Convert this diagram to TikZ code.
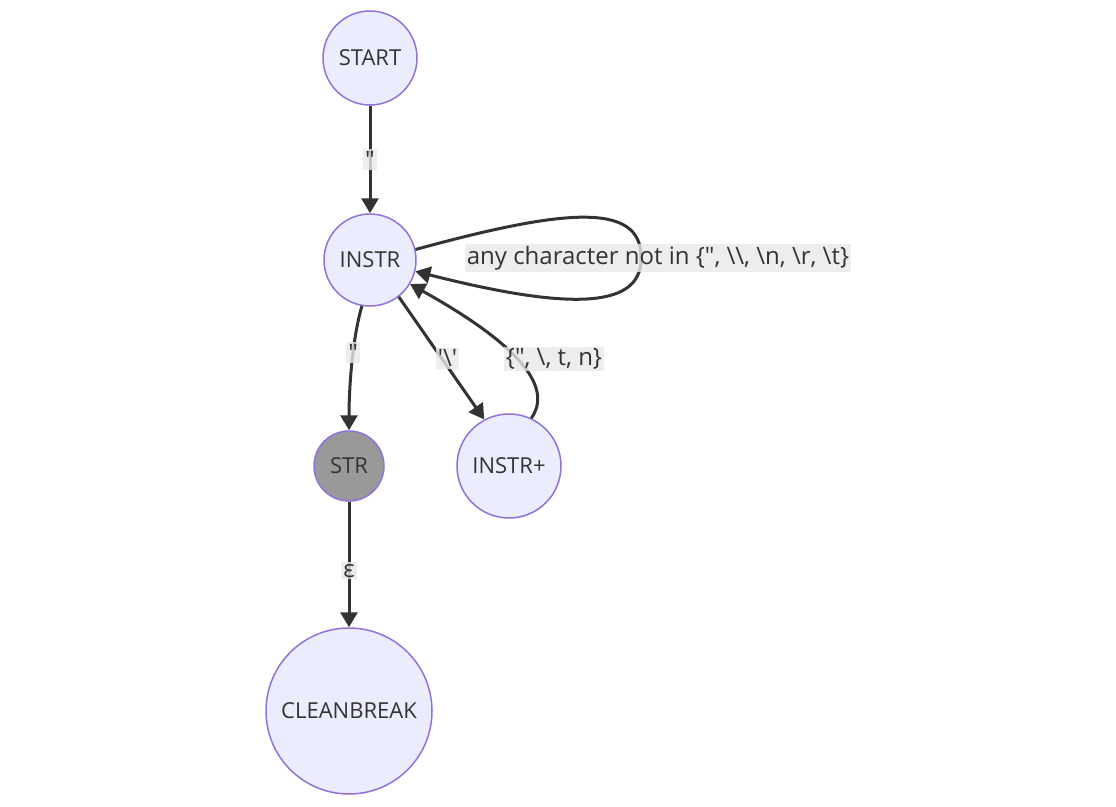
\documentclass[tikz,border=0pt]{standalone}
\usepackage{fontspec}
\setmainfont{Open Sans}
\usetikzlibrary{arrows.meta,positioning}
\definecolor{statefill}{HTML}{ECECFF}
\definecolor{stateline}{HTML}{9370DB}
\definecolor{edgeline}{HTML}{333333}
\definecolor{lblfill}{HTML}{E8E8E8}
\tikzset{state/.style={circle,draw=stateline,fill=statefill,line width=1.5pt,text=edgeline,font=\fontsize{22}{26}\selectfont,inner sep=0pt}}
\tikzset{final/.style={state,fill=black!40}}
\tikzset{trans/.style={draw=edgeline,line width=3pt,-{Triangle[length=15pt,width=17pt]}}}
\tikzset{lbl/.style={fill=lblfill,fill opacity=0.8,text opacity=1,text=edgeline,inner sep=2pt,font=\fontsize{24}{28}\selectfont}}

\begin{document}
\begin{tikzpicture}[x=1pt,y=-1pt]
  \useasboundingbox (0,0) rectangle (1116,806);
  \node[state,minimum size=94pt] (start) at (370,58) {START};
  \node[state,minimum size=92pt] (instr) at (370,260) {INSTR};
  \node[final,minimum size=70pt] (str) at (349,466) {STR};
  \node[state,minimum size=104pt] (instrp) at (509,466) {INSTR+};
  \node[state,minimum size=166pt] (clean) at (349,711) {CLEANBREAK};
  \coordinate (loop) at (641,258);
  \draw[trans] (start) -- node[lbl] (q1) {\textquotedbl} (instr);
  \draw[trans] (instr.13) .. controls (560,210) and (642,200) .. (loop)
                .. controls (642,312) and (560,308) .. (instr.-14);
  \node[lbl] (any) at (658,258) {any character not in \{\textquotedbl, \textbackslash\textbackslash, \textbackslash n, \textbackslash r, \textbackslash t\}};
  \draw[trans] (instr.-100) .. controls (352,340) and (349,390) .. node[lbl,pos=0.4] (q2) {\textquotedbl} (str);
  \draw[trans] (instr.-52) -- node[lbl,pos=0.5,xshift=6pt] (bs) {\textquotesingle\textbackslash\textquotesingle} (instrp.118);
  \draw[trans] (instrp.65) .. controls (550,392) and (532,352) .. (instr.-31);
  \node[lbl] (esc) at (554,359) {\{\textquotedbl, \textbackslash, t, n\}};
  \draw[trans] (str) -- node[lbl,pos=0.55] (eps) {ε} (clean);
\end{tikzpicture}
\end{document}
